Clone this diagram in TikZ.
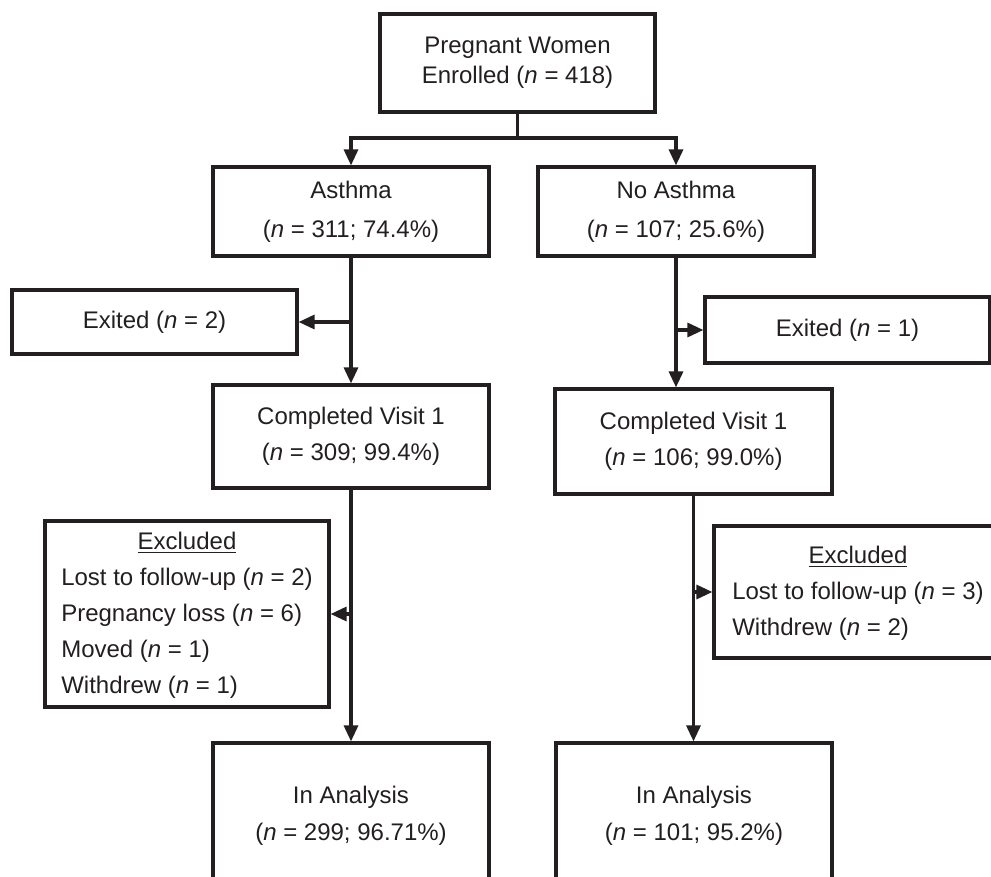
\documentclass[tikz,border=0pt]{standalone}
\usepackage{fontspec}
\setmainfont{Liberation Sans}
\usetikzlibrary{arrows.meta}
\definecolor{ink}{RGB}{35,31,32}

\begin{document}
\begin{tikzpicture}[x=0.5pt,y=-0.5pt,>={Triangle[length=8pt,width=7pt]},
    line width=1.6pt, draw=ink,
    box/.style={draw=ink, rectangle, inner sep=0pt, align=center, text=ink,
        font=\fontsize{12}{18}\selectfont}]
    % okraje obrazku
    \useasboundingbox (0,0) rectangle (991,877);
    \clip (0,0) rectangle (991,877);

    % uzly
    \node[box, minimum width=137.5pt, minimum height=49pt, font=\fontsize{12}{15}\selectfont]
        (enrolled) at (517.5,63) {Pregnant Women\\Enrolled (\textit{n} = 418)};
    \node[box, minimum width=138pt, minimum height=44.5pt, font=\fontsize{12}{19.5}\selectfont]
        (asthma) at (351,211.5) {Asthma\\(\textit{n} = 311; 74.4\%)};
    \node[box, minimum width=138pt, minimum height=44.5pt, font=\fontsize{12}{19.5}\selectfont]
        (noasthma) at (676,211.5) {No Asthma\\(\textit{n} = 107; 25.6\%)};
    \node[box, minimum width=142.5pt, minimum height=32pt] (exitA) at (154.5,322) {Exited (\textit{n} = 2)};
    \node[box, minimum width=142.5pt, minimum height=33pt] (exitB) at (847.5,330) {Exited (\textit{n} = 1)};
    \node[box, minimum width=138pt, minimum height=51.5pt]
        (visitA) at (351,436.5) {Completed Visit 1\\(\textit{n} = 309; 99.4\%)};
    \node[box, minimum width=138.5pt, minimum height=52.5pt]
        (visitB) at (693.5,441.5) {Completed Visit 1\\(\textit{n} = 106; 99.0\%)};
    \node[box, minimum width=142pt, minimum height=93pt] (exclA) at (187,614)
        {\begin{tabular}{@{}l@{}}
            \multicolumn{1}{@{}c@{}}{\underline{Excluded}}\\
            Lost to follow-up (\textit{n} = 2)\\
            Pregnancy loss (\textit{n} = 6)\\
            Moved (\textit{n} = 1)\\
            Withdrew (\textit{n} = 1)
        \end{tabular}};
    \node[box, minimum width=144pt, minimum height=66pt] (exclB) at (858,592)
        {\begin{tabular}{@{}l@{}}
            \multicolumn{1}{@{}c@{}}{\underline{Excluded}}\\
            Lost to follow-up (\textit{n} = 3)\\
            Withdrew (\textit{n} = 2)
        \end{tabular}};
    \node[box, minimum width=138pt, minimum height=73pt, font=\fontsize{12}{18.5}\selectfont]
        (analysisA) at (351,816) {In Analysis\\(\textit{n} = 299; 96.71\%)};
    \node[box, minimum width=138pt, minimum height=73pt, font=\fontsize{12}{18.5}\selectfont]
        (analysisB) at (694,816) {In Analysis\\(\textit{n} = 101; 95.2\%)};

    % spojnice
    \coordinate (split) at (517.5,138);
    \draw (enrolled) -- (split);
    \draw[->] (split) -| (asthma);
    \draw[->] (split) -| (noasthma);

    \draw[->] (asthma) -- (visitA);
    \draw[->] (asthma.south |- exitA) -- (exitA);
    \draw[->] (noasthma.south) -- (noasthma.south |- visitB.north);
    \draw[->] (noasthma.south |- exitB) -- (exitB);

    \draw[->] (visitA) -- (analysisA);
    \draw[->] (visitA.south |- exclA) -- (exclA);
    \draw[->] (visitB.south) -- (visitB.south |- analysisB.north);
    \draw[->] (visitB.south |- exclB) -- (exclB);
\end{tikzpicture}
\end{document}
